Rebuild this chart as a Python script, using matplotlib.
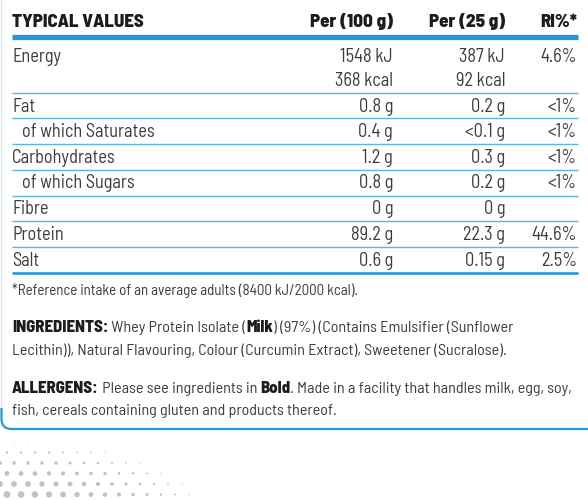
import matplotlib
matplotlib.use("Agg")
import matplotlib.pyplot as plt
import numpy as np
from matplotlib.path import Path
from matplotlib.patches import PathPatch

# ---------------- data ----------------
nutrients = ["Energy", "", "Fat", "of which Saturates", "Carbohydrates",
             "of which Sugars", "Fibre", "Protein", "Salt"]
per_100g = ["1548 kJ", "368 kcal", "0.8 g", "0.4 g", "1.2 g", "0.8 g", "0 g", "89.2 g", "0.6 g"]
per_25g = ["387 kJ", "92 kcal", "0.2 g", "<0.1 g", "0.3 g", "0.2 g", "0 g", "22.3 g", "0.15 g"]
ri_pct = ["4.6%", "", "<1%", "<1%", "<1%", "<1%", "", "44.6%", "2.5%"]
headers = ["TYPICAL VALUES", "Per (100 g)", "Per (25 g)", "RI%*"]
footnote = "*Reference intake of an average adults (8400 kJ/2000 kcal)."
ingredients_runs = [
    [("INGREDIENTS:", True), (" Whey Protein Isolate (", False), ("Milk", True),
     (") (97%) (Contains Emulsifier (Sunflower", False)],
    [("Lecithin)), Natural Flavouring, Colour (Curcumin Extract), Sweetener (Sucralose).", False)],
]
allergens_runs = [
    [("ALLERGENS:", True), (" Please see ingredients in ", False), ("Bold", True),
     (". Made in a facility that handles milk, egg, soy,", False)],
    [("fish, cereals containing gluten and products thereof.", False)],
]

# ---------------- style ----------------
FONT = "Barlow Semi Condensed"
TXT = "#3c3c3c"
DARK = "#1c1c1c"
BLUE = "#1f9bd7"
LBLUE = "#56b6e6"

W, H = 588, 500
fig = plt.figure(figsize=(W / 100, H / 100), dpi=100)
ax = fig.add_axes([0, 0, 1, 1])
ax.set_xlim(0, W)
ax.set_ylim(H, 0)
ax.axis("off")

# background halftone decoration (bottom-left)
xs, ys, ss = [], [], []
step = 14
for j, yy in enumerate(np.arange(442, 506, step * 0.75)):
    for i, xx in enumerate(np.arange(0, 230, step)):
        x0 = xx + (step / 2 if j % 2 else 0)
        d = np.hypot(x0 / 215.0, (508 - yy) / 72.0)
        if d < 1.0:
            xs.append(x0); ys.append(yy); ss.append((1 - d) ** 1.6 * 34)
ax.scatter(xs, ys, s=ss, color="#c2c2c2", lw=0, zorder=0)

# box border (left edge + rounded bottom-left corner + bottom edge)
r = 10
codes = [Path.MOVETO, Path.LINETO, Path.CURVE3, Path.CURVE3, Path.LINETO]
verts = [(1.5, 0), (1.5, 429 - r), (1.5, 429), (1.5 + r, 429), (W, 429)]
ax.add_patch(PathPatch(Path(verts, codes), fill=False, lw=0.9, ec="#cfe8f6", zorder=1))
verts2 = [(1.5, 408), (1.5, 429 - r), (1.5, 429), (1.5 + r, 429), (W, 429)]
ax.add_patch(PathPatch(Path(verts2, codes), fill=False, lw=1.6, ec=BLUE, zorder=1))

# ---------------- table ----------------
x_left, x_indent = 12, 22
col_right = [393, 505, 577]
line_x0, line_x1 = 12, 578

hdr_base = 27
ax.text(x_left, hdr_base, headers[0], family=FONT, weight=800, fontsize=13.6,
        color=DARK, va="baseline", ha="left")
for cx, h in zip(col_right, headers[1:]):
    ax.text(cx, hdr_base, h, family=FONT, weight=800, fontsize=13.6,
            color=DARK, va="baseline", ha="right")
ax.plot([line_x0, line_x1], [36.5, 36.5], color=BLUE, lw=3.8, solid_capstyle="butt")

baselines = [61.5, 85.5, 111.5, 137, 163, 188.5, 214, 239.5, 265.5]
row_lines = [92.7, 118.3, 144, 170, 195.7, 221, 246.7]
for i, (name, a, b, c) in enumerate(zip(nutrients, per_100g, per_25g, ri_pct)):
    y = baselines[i]
    if name:
        xx = x_indent if name.startswith("of which") else x_left
        ax.text(xx, y, name, family=FONT, fontsize=13.2, color=TXT, va="baseline", ha="left")
    for cx, v in zip(col_right, (a, b, c)):
        if v:
            ax.text(cx, y, v, family=FONT, fontsize=13.2, color=TXT, va="baseline", ha="right")
for ly in row_lines:
    ax.plot([line_x0, line_x1], [ly, ly], color=LBLUE, lw=1.0, solid_capstyle="butt")
ax.plot([line_x0, line_x1], [273.3, 273.3], color=BLUE, lw=1.9, solid_capstyle="butt")

# ---------------- notes ----------------
fig.canvas.draw()
renderer = fig.canvas.get_renderer()
inv = ax.transData.inverted()


def draw_runs(x, y, runs, size=11.6, bsize=12.0):
    cur = x
    for s, bold in runs:
        t = ax.text(cur, y, s, family=FONT, fontsize=bsize if bold else size,
                    weight=800 if bold else "normal",
                    color=DARK if bold else TXT, va="baseline", ha="left")
        bb = t.get_window_extent(renderer=renderer)
        cur = inv.transform((bb.x1, bb.y0))[0]


draw_runs(x_left, 295, [(footnote, False)], size=10.8)
draw_runs(x_left, 332, ingredients_runs[0])
draw_runs(x_left, 355.5, ingredients_runs[1])
draw_runs(x_left, 393, allergens_runs[0])
draw_runs(x_left, 415.5, allergens_runs[1])

fig.savefig("out.png", dpi=100)
